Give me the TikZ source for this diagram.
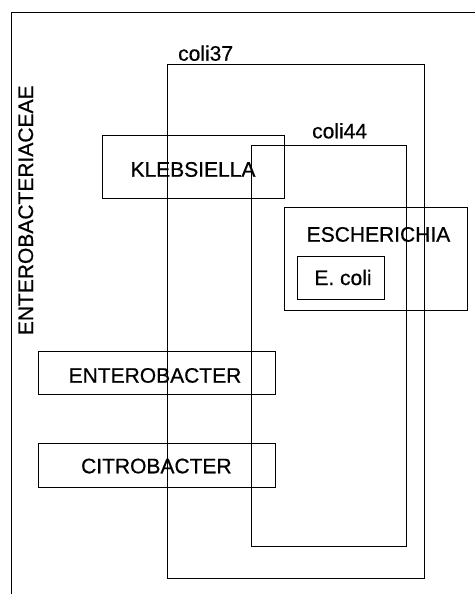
\documentclass[tikz,border=0pt]{standalone}
\usepackage{fontspec}
\setmainfont{Liberation Sans}[FakeBold=0.6]
\newfontfamily\lblfont{Liberation Sans}[FakeBold=0.6]
\begin{document}
\begin{tikzpicture}[x=1pt,y=-1pt,
  boxline/.style={draw=black,line width=1pt},
  lbl/.style={inner sep=0pt,anchor=base,font=\fontsize{21}{25}\selectfont\lblfont\addfontfeature{FakeBold=0.6}}]
\useasboundingbox (0,0) rectangle (475,594);
% outer frame (cut off at right and bottom)
\coordinate (frTR) at (475,12.5);
\coordinate (frTL) at (11,12.5);
\coordinate (frBL) at (11,594);
\draw[boxline] (frTR) -- (frTL) -- (frBL);
\node[lbl,rotate=90] (family) at (33,210.3) {ENTEROBACTERIACEAE};
% coli37
\draw[boxline] (167,65) rectangle (424,578);
\node[lbl,anchor=base west] (c37) at (178,60.7) {coli37};
% coli44
\draw[boxline] (251,145) rectangle (406,546);
\node[lbl,anchor=base west] (c44) at (312,138.3) {coli44};
% genera
\draw[boxline] (102,135) rectangle (284,198);
\node[lbl] (kleb) at (193,176.7) {KLEBSIELLA};
\draw[boxline] (284,207) rectangle (467,310);
\node[lbl] (esch) at (378.5,241.7) {ESCHERICHIA};
\draw[boxline] (297,256) rectangle (384,299);
\node[lbl] (ecoli) at (343,285) {E. coli};
\draw[boxline] (38,351) rectangle (275,394);
\node[lbl] (entb) at (155,382.7) {ENTEROBACTER};
\draw[boxline] (38,443) rectangle (275,487);
\node[lbl] (citb) at (156.4,473.3) {CITROBACTER};
\end{tikzpicture}
\end{document}
